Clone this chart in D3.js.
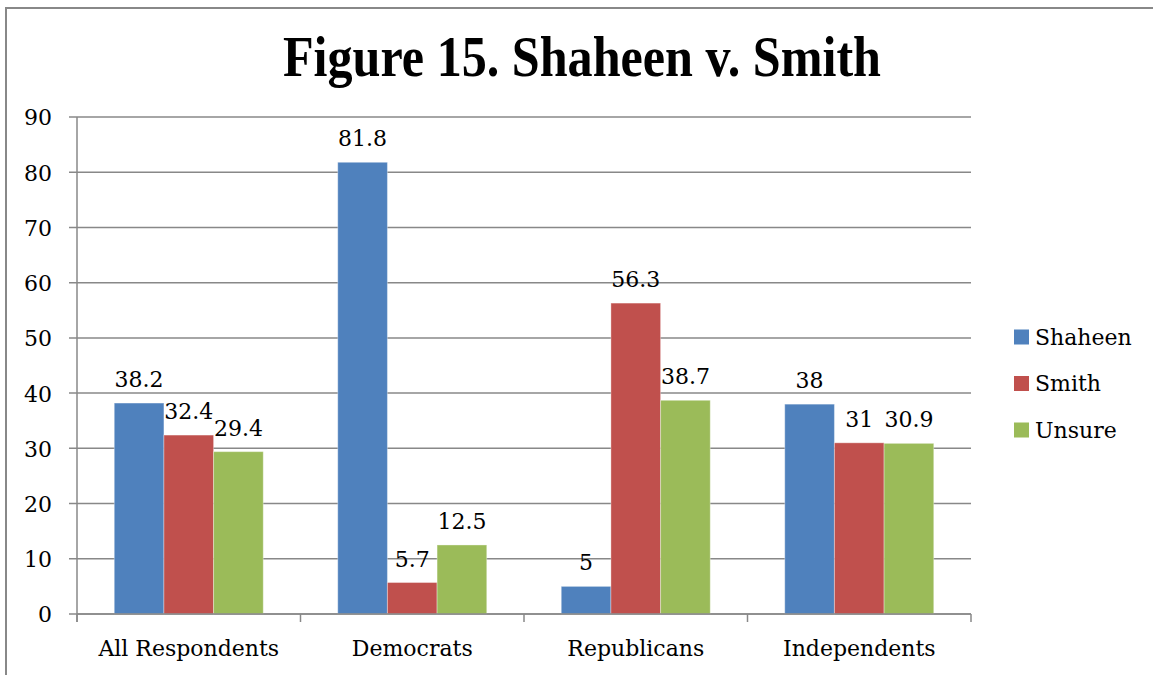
<!DOCTYPE html>
<html><head><meta charset="utf-8">
<script src="https://cdn.jsdelivr.net/npm/d3@7"></script>
<style>body{margin:0;background:#fff}svg{display:block}</style>
</head><body>
<svg id="c" width="1153" height="675"></svg>
<script>
const categories = ["All Respondents","Democrats","Republicans","Independents"];
const seriesNames = ["Shaheen","Smith","Unsure"];
const shaheen = [38.2, 81.8, 5, 38];
const smith = [32.4, 5.7, 56.3, 31];
const unsure = [29.4, 12.5, 38.7, 30.9];
const yTicks = [0,10,20,30,40,50,60,70,80,90];
const colors = ["#4F81BD","#C0504D","#9BBB59"];
const values = [shaheen, smith, unsure];

const FONT = "DejaVu Serif";
const TFONT = "Liberation Serif";
const FS = 22;
const svg = d3.select("#c");
const W = 1153, H = 675;
const m = {left:77, right:971, top:117, bottom:614};

// frame
svg.append("path").attr("d",`M6,${H} L6,8 L${W},8`).attr("fill","none").attr("stroke","#888").attr("stroke-width",2);

svg.append("text").attr("x",582).attr("y",76).attr("text-anchor","middle")
  .attr("font-family",TFONT).attr("font-weight","bold").attr("font-size",56)
  .attr("textLength",598).attr("lengthAdjust","spacingAndGlyphs")
  .text("Figure 15. Shaheen v. Smith");

const x = d3.scaleBand().domain(categories).range([m.left,m.right]).paddingInner(0).paddingOuter(0);
const inner = d3.scaleBand().domain(seriesNames).range([0,x.bandwidth()]).paddingInner(0).paddingOuter(0.75);
const y = d3.scaleLinear().domain([0,90]).range([m.bottom,m.top]);

// gridlines
svg.append("g").selectAll("line").data(yTicks).join("line")
  .attr("x1",m.left-8).attr("x2",m.right).attr("y1",d=>y(d)).attr("y2",d=>y(d))
  .attr("stroke","#888").attr("stroke-width",1.5);

// y axis labels
const yAxis = d3.axisLeft(y).tickValues(yTicks).tickSize(0).tickPadding(0);
const ya = svg.append("g").attr("transform",`translate(${m.left},0)`).call(yAxis)
  .attr("font-family",FONT).attr("font-size",FS);
ya.select(".domain").remove();
ya.selectAll("text").attr("x",-25).attr("dy","0.36em").attr("fill","#000");

// bars
values.forEach((vals,si)=>{
  svg.append("g").selectAll("rect").data(vals).join("rect")
    .attr("x",(d,i)=>x(categories[i])+inner(seriesNames[si]))
    .attr("width",inner.bandwidth())
    .attr("y",d=>y(d)).attr("height",d=>y(0)-y(d))
    .attr("fill",colors[si]).attr("stroke","rgba(255,255,255,0.35)").attr("stroke-width",1);
  svg.append("g").attr("font-family",FONT).attr("font-size",FS)
    .selectAll("text").data(vals).join("text")
    .attr("x",(d,i)=>x(categories[i])+inner(seriesNames[si])+inner.bandwidth()/2)
    .attr("y",d=>y(d)-16).attr("text-anchor","middle")
    .text(d=>d);
});

// axes lines
svg.append("line").attr("x1",m.left).attr("x2",m.left).attr("y1",m.top).attr("y2",m.bottom+8).attr("stroke","#888").attr("stroke-width",1.5);
const xAxis = d3.axisBottom(x).tickSize(0);
const xa = svg.append("g").attr("transform",`translate(0,${m.bottom})`).call(xAxis)
  .attr("font-family",FONT).attr("font-size",FS);
xa.select(".domain").attr("stroke","#888").attr("stroke-width",1.5).attr("d",`M${m.left},0H${m.right}`);
xa.selectAll("text").attr("y",34).attr("dy","0.36em").attr("fill","#000");
svg.append("g").selectAll("line").data(d3.range(categories.length+1)).join("line")
  .attr("x1",i=>m.left+i*x.step()).attr("x2",i=>m.left+i*x.step())
  .attr("y1",m.bottom).attr("y2",m.bottom+8).attr("stroke","#888").attr("stroke-width",1.5);

// legend
const leg = svg.append("g").attr("font-family",FONT).attr("font-size",FS)
  .selectAll("g").data(seriesNames).join("g")
  .attr("transform",(d,i)=>`translate(1014,${337+i*46.5})`);
leg.append("rect").attr("x",0).attr("y",-7.5).attr("width",15).attr("height",15).attr("fill",(d,i)=>colors[i]);
leg.append("text").attr("x",21).attr("dy","0.36em").text(d=>d);
</script>
</body></html>
